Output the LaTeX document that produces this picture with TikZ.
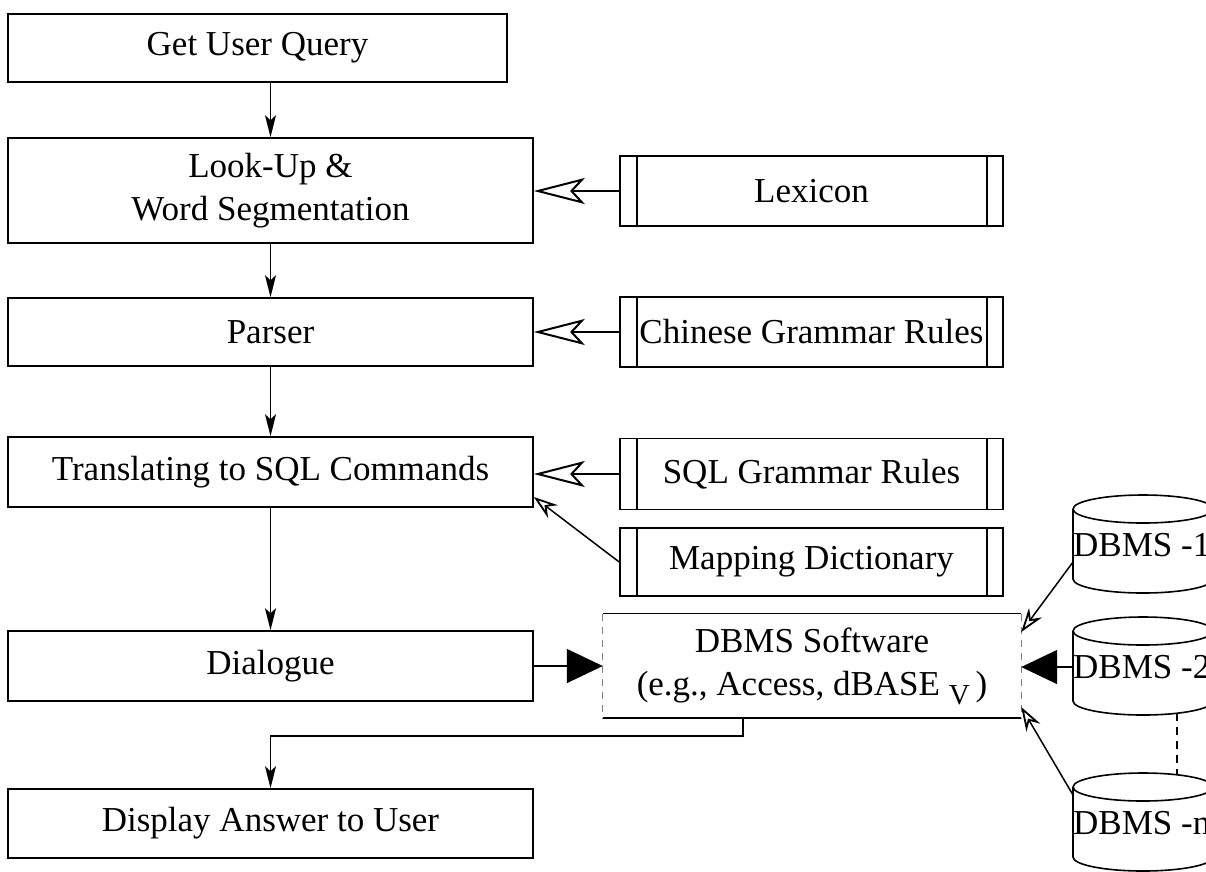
\documentclass[tikz,border=0pt]{standalone}
\usepackage{fontspec}
\setmainfont{Liberation Serif}
\usetikzlibrary{arrows.meta,calc}

\tikzset{
  txt/.style={font=\fontsize{35}{43}\selectfont, align=center},
  lbox/.style={txt, draw, line width=1.6pt, inner sep=0pt,
               minimum width=525pt, minimum height=70pt},
  rbox/.style={txt, draw, line width=1.6pt, inner sep=0pt,
               minimum width=383pt, minimum height=70pt,
               path picture={
                 \draw[line width=1.6pt]
                   ([xshift=17pt]path picture bounding box.north west) --
                   ([xshift=17pt]path picture bounding box.south west);
                 \draw[line width=1.6pt]
                   ([xshift=-16pt]path picture bounding box.north east) --
                   ([xshift=-16pt]path picture bounding box.south east);}},
  cyl/.style={line width=1.6pt},
  flow/.style={line width=1.5pt, -{Stealth[length=22pt, width=11pt, inset=5pt]}},
  feed/.style={line width=1.5pt,
               -{Stealth[open, length=51pt, width=26pt, inset=12pt, line width=2pt]}},
  thin open/.style={line width=1.5pt,
               -{Stealth[open, length=24pt, width=16pt, inset=8pt, line width=1.8pt]}},
  solid tri/.style={line width=1.5pt, -{Triangle[length=36pt, width=34pt]}},
}

% a database drawn as a cylinder; #1 name of the label node, #2 top edge,
% #3 label, #4 label height
\newcommand\dbcyl[4]{%
  \draw[cyl] (1073,-#2-14) -- (1073,-#2-84)
     arc[start angle=180, end angle=360, x radius=70pt, y radius=14pt]
     -- (1213,-#2-14);
  \draw[cyl] (1143,-#2-14) ellipse[x radius=70pt, y radius=14pt];
  \node[txt, anchor=west, inner sep=0pt] (#1) at (1073,-#4) {#3};
}

\begin{document}
\begin{tikzpicture}[x=1pt, y=1pt]
  \useasboundingbox (0,0) rectangle (1206,-871);
  \clip (0,0) rectangle (1206,-871);

  % main processing chain
  \node[lbox, minimum width=499pt, minimum height=68pt] (guq) at (257.5,-48) {Get User Query};
  \node[lbox, minimum height=105pt] (lu) at (270.5,-190.5) {Look-Up \&\\Word Segmentation};
  \node[lbox, minimum height=68pt] (par) at (270.5,-332) {Parser};
  \node[lbox] (tr) at (270.5,-472) {Translating to SQL Commands};
  \node[lbox] (dia) at (270.5,-666) {Dialogue};
  \node[lbox, minimum height=69pt] (disp) at (270.5,-823.5) {Display Answer to User};

  % knowledge sources
  \node[rbox] (lex) at (811.5,-191) {Lexicon};
  \node[rbox] (cgr) at (811.5,-332) {Chinese Grammar Rules};
  \node[rbox, minimum height=71pt] (sql) at (811.5,-474) {SQL Grammar Rules};
  \node[rbox, minimum height=68pt] (map) at (811.5,-562) {Mapping Dictionary};

  % DBMS software box
  \node[txt, inner sep=0pt, minimum width=418pt, minimum height=104pt] (db) at (812,-666)
    {DBMS Software\\(e.g., Access, dBASE\ \raisebox{-9pt}{\fontsize{29}{29}\selectfont V}\,)};
  \draw[line width=1pt] (db.north west) -- (db.north east);
  \draw[line width=1.6pt] (db.south west) -- (db.south east);
  \draw[gray, line width=0.9pt, dash pattern=on 7pt off 6pt] (db.north west) -- (db.south west);
  \draw[gray, line width=0.9pt, dash pattern=on 7pt off 6pt] (db.north east) -- (db.south east);

  % databases
  \dbcyl{d1}{495}{DBMS -1}{545}
  \dbcyl{d2}{617}{DBMS -2}{667}
  \dbcyl{dn}{773}{DBMS -n}{823}
  \coordinate (d1out) at (1073,-562);
  \coordinate (dnout) at (1073,-795);
  \draw[line width=1.5pt, dash pattern=on 8pt off 6pt] (1177,-713) -- (1177,-775);

  % flow
  \draw[flow] (guq.south -| lu.north) -- (lu.north);
  \draw[flow] (lu.south) -- (par.north);
  \draw[flow] (par.south) -- (tr.north);
  \draw[flow] (tr.south) -- (dia.north);
  \draw[flow] ([xshift=-69pt]db.south) -- ++(0,-18) -| (disp.north);

  % knowledge feeds
  \draw[feed] (lex.west) -- (lex.west -| lu.east);
  \draw[feed] (cgr.west) -- (cgr.west -| par.east);
  \draw[feed] (sql.west) -- (sql.west -| tr.east);
  \draw[thin open] (map.west) -- ([yshift=-25pt]tr.east);

  % queries to the DBMS software
  \draw[solid tri] (dia.east) -- (db.west);
  \draw[solid tri] (d2.west) -- (d2.west -| db.east);
  \draw[thin open] (d1out) -- ([yshift=34pt]db.east);
  \draw[thin open] (dnout) -- ([yshift=-41pt]db.east);
\end{tikzpicture}
\end{document}
